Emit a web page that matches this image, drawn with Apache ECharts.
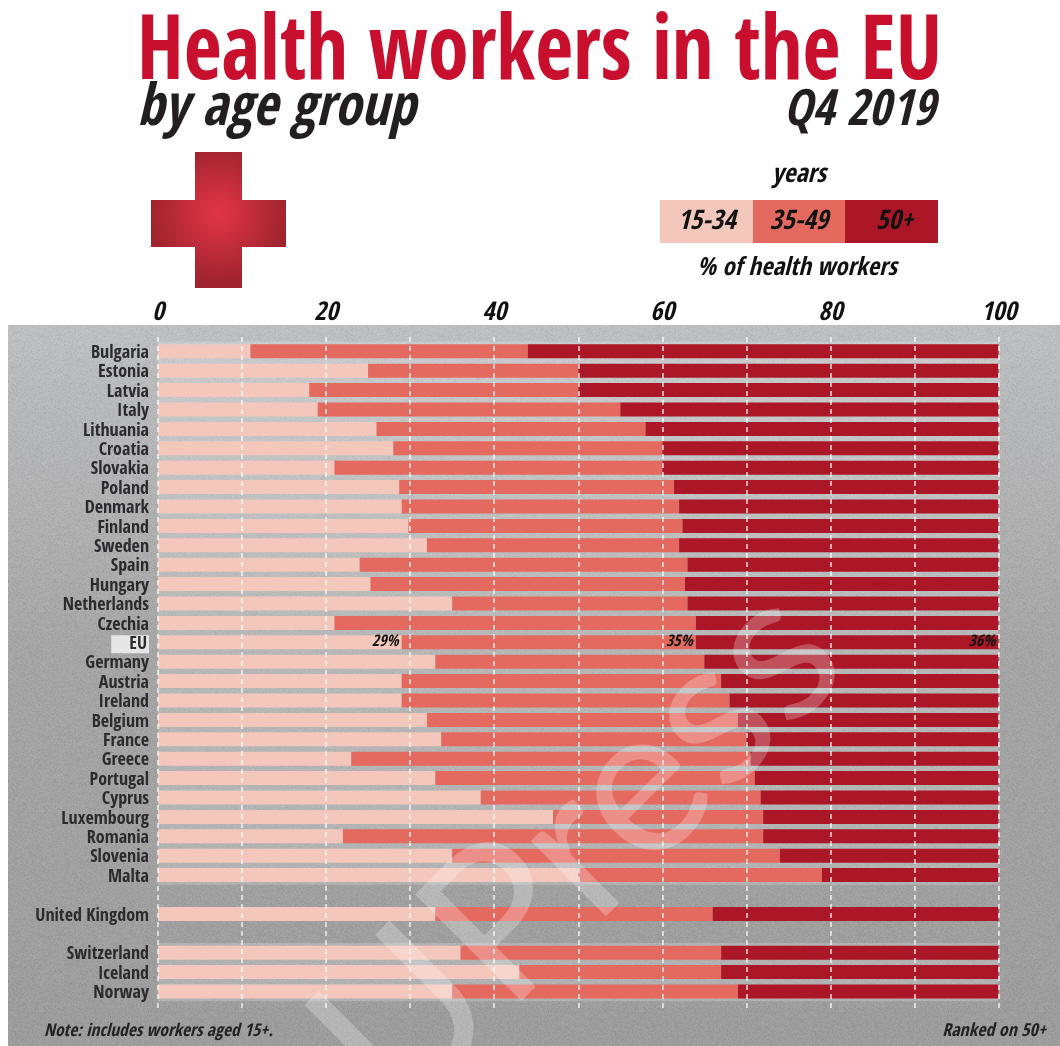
<!DOCTYPE html>
<html><head><meta charset="utf-8">
<style>html,body{margin:0;padding:0;background:#fff}#c{width:1060px;height:1046px}</style>
<script src="https://cdn.jsdelivr.net/npm/echarts@6/dist/echarts.min.js"></script>
</head><body><div id="c"></div>
<script>
const countries = ['Bulgaria','Estonia','Latvia','Italy','Lithuania','Croatia','Slovakia','Poland','Denmark','Finland','Sweden','Spain','Hungary','Netherlands','Czechia','EU','Germany','Austria','Ireland','Belgium','France','Greece','Portugal','Cyprus','Luxembourg','Romania','Slovenia','Malta','','United Kingdom',' ','Switzerland','Iceland','Norway'];
const age15to34 = [11,25,18,19,26,28,21,28.7,29,29.8,32,24,25.3,35,21,29,33,29,29,32,33.7,23,33,38.4,47,22,35,50,null,33,null,36,43,35];
const age35to49 = [33,25,32,36,32,32,39,32.7,33,32.6,30,39,37.4,28,43,35,32,38,39,37,36.3,47.5,38,33.3,25,50,39,29,null,33,null,31,24,34];
const age50plus = [56,50,50,45,42,40,40,38.6,38,37.6,38,37,37.3,37,36,36,35,33,32,31,30,29.5,29,28.3,28,28,26,21,null,34,null,33,33,31];
const tickLabels = [0,20,40,60,80,100];
const legendLabels = ['15-34','35-49','50+'];
const colors = ['#f4c7bc','#e46a60','#ab1726'];

const NARROW = '"Open Sans Condensed","Roboto Condensed",sans-serif';
const chart = echarts.init(document.getElementById('c'), null, {renderer:'canvas'});

function txt(text,x,y,size,color,align,italic,sx){
  return {type:'text',z:50,x:x,y:y,scaleX:sx||1,style:{text,x:0,y:0,fill:color,align:align,verticalAlign:'middle',
    font:(italic?'italic ':'')+'bold '+size+'px '+NARROW}};
}
// fine film grain on the grey panel (texture only, no data)
const grain = document.createElement('canvas'); grain.width=grain.height=200;
(function(){const c=grain.getContext('2d');const im=c.createImageData(200,200);let s=12345;
 for(let i=0;i<im.data.length;i+=4){s=(s*1103515245+12345)&0x7fffffff;const v=(s>>16)&255;
  im.data[i]=im.data[i+1]=im.data[i+2]=v>127?255:0;im.data[i+3]=(v%16);}
 c.putImageData(im,0,0);})();

const series = [age15to34,age35to49,age50plus].map((d,i)=>({
  type:'bar',name:legendLabels[i],stack:'a',xAxisIndex:0,yAxisIndex:0,barWidth:14,
  itemStyle:{color:colors[i]},
  data:d.map((v,k)=> countries[k]==='EU'
    ? {value:v,label:{show:true,position:'insideRight',distance:3,formatter:'{c}%',color:'#111',fontFamily:NARROW,fontStyle:'italic',fontWeight:'bold',fontSize:16}}
    : v)
}));
series[0].markArea = {silent:true,z:1,itemStyle:{color:'rgba(255,255,255,0.2)'},data:[
  [{xAxis:0,yAxis:'Bulgaria'},{xAxis:100,yAxis:'Malta'}],
  [{xAxis:0,yAxis:'Switzerland'},{xAxis:100,yAxis:'Norway'}]
]};

const legendX=[660,753,845], legendW=[93,92,93];
const legendG = [];
legendLabels.forEach((l,i)=>{
  legendG.push({type:'rect',z:40,shape:{x:legendX[i],y:200,width:legendW[i],height:43},style:{fill:colors[i]}});
  legendG.push(txt(l,legendX[i]+legendW[i]/2+(i==2?3:0),222,27,'#111','center',true));
});
const cr = {type:'polygon',z:40,shape:{points:[[195,152],[242,152],[242,200],[286,200],[286,247],[242,247],[242,288],[195,288],[195,247],[151,247],[151,200],[195,200]]},
  style:{fill:new echarts.graphic.RadialGradient(0.5,0.45,0.5,[{offset:0,color:'#e03545'},{offset:0.3,color:'#d03040'},{offset:1,color:'#a0242f'}])}};

chart.setOption({
  animation:false,
  backgroundColor:'#fff',
  grid:[{left:158,right:61.5,top:341.6,height:659.6},{left:158,right:61.5,top:337,bottom:38}],
  xAxis:[
    {gridIndex:0,type:'value',min:0,max:100,show:false},
    {gridIndex:1,type:'value',min:0,max:100,interval:10,position:'top',z:5,
     axisLine:{show:false},axisTick:{show:false},
     axisLabel:{margin:11,color:'#111',fontFamily:NARROW,fontStyle:'italic',fontWeight:'bold',fontSize:26,
       formatter:v=>tickLabels.includes(v)?String(v):''},
     splitLine:{show:true,lineStyle:{color:'rgba(255,255,255,0.85)',width:1.5,type:[5,4]}}}
  ],
  yAxis:[
    {gridIndex:0,type:'category',inverse:true,data:countries,
     axisLine:{show:false},axisTick:{show:false},
     axisLabel:{margin:9,interval:0,color:'#2b2b2d',fontFamily:NARROW,fontWeight:'bold',fontSize:18,padding:[4,0,0,0],
       formatter:v=>v==='EU'?'{eu|EU}':v,
       rich:{eu:{color:'#2b2b2d',fontFamily:NARROW,fontWeight:'bold',fontSize:18,
         backgroundColor:'#e6e6e6',padding:[0,2,0,18]}}}},
    {gridIndex:1,type:'value',show:false,min:0,max:1}
  ],
  series:series,
  graphic:[
    {type:'rect',z:-10,shape:{x:8,y:325,width:1052,height:721},
     style:{fill:new echarts.graphic.LinearGradient(0,0,0,1,[{offset:0,color:'#bfc0c2'},{offset:0.45,color:'#a6a6a6'},{offset:1,color:'#9d9d9d'}])}},
    {type:'rect',z:-9,shape:{x:8,y:325,width:1052,height:721},style:{fill:{image:grain,repeat:'repeat'}}},
    {type:'text',z:100,silent:true,rotation:Math.PI*0.25,x:425,y:1150,
     style:{text:'UPress',x:0,y:0,fill:'rgba(255,255,255,0.25)',font:'400 210px Lato',align:'left',verticalAlign:'bottom'}},
    txt('Health workers in the EU',137,55,90,'#c8102e','left',false,0.915),
    txt('by age group',137,110,58,'#231f20','left',true,0.94),
    txt('Q4 2019',935,112,50,'#231f20','right',true,0.96),
    cr,
    txt('years',799,175,26,'#111','center',true),
    ...legendG,
    txt('% of health workers',797,268,25,'#111','center',true),
    txt('Note: includes workers aged 15+.',44,1031,17.5,'#222','left',true),
    txt('Ranked on 50+',1046,1031,18,'#222','right',true)
  ]
});
</script></body></html>
